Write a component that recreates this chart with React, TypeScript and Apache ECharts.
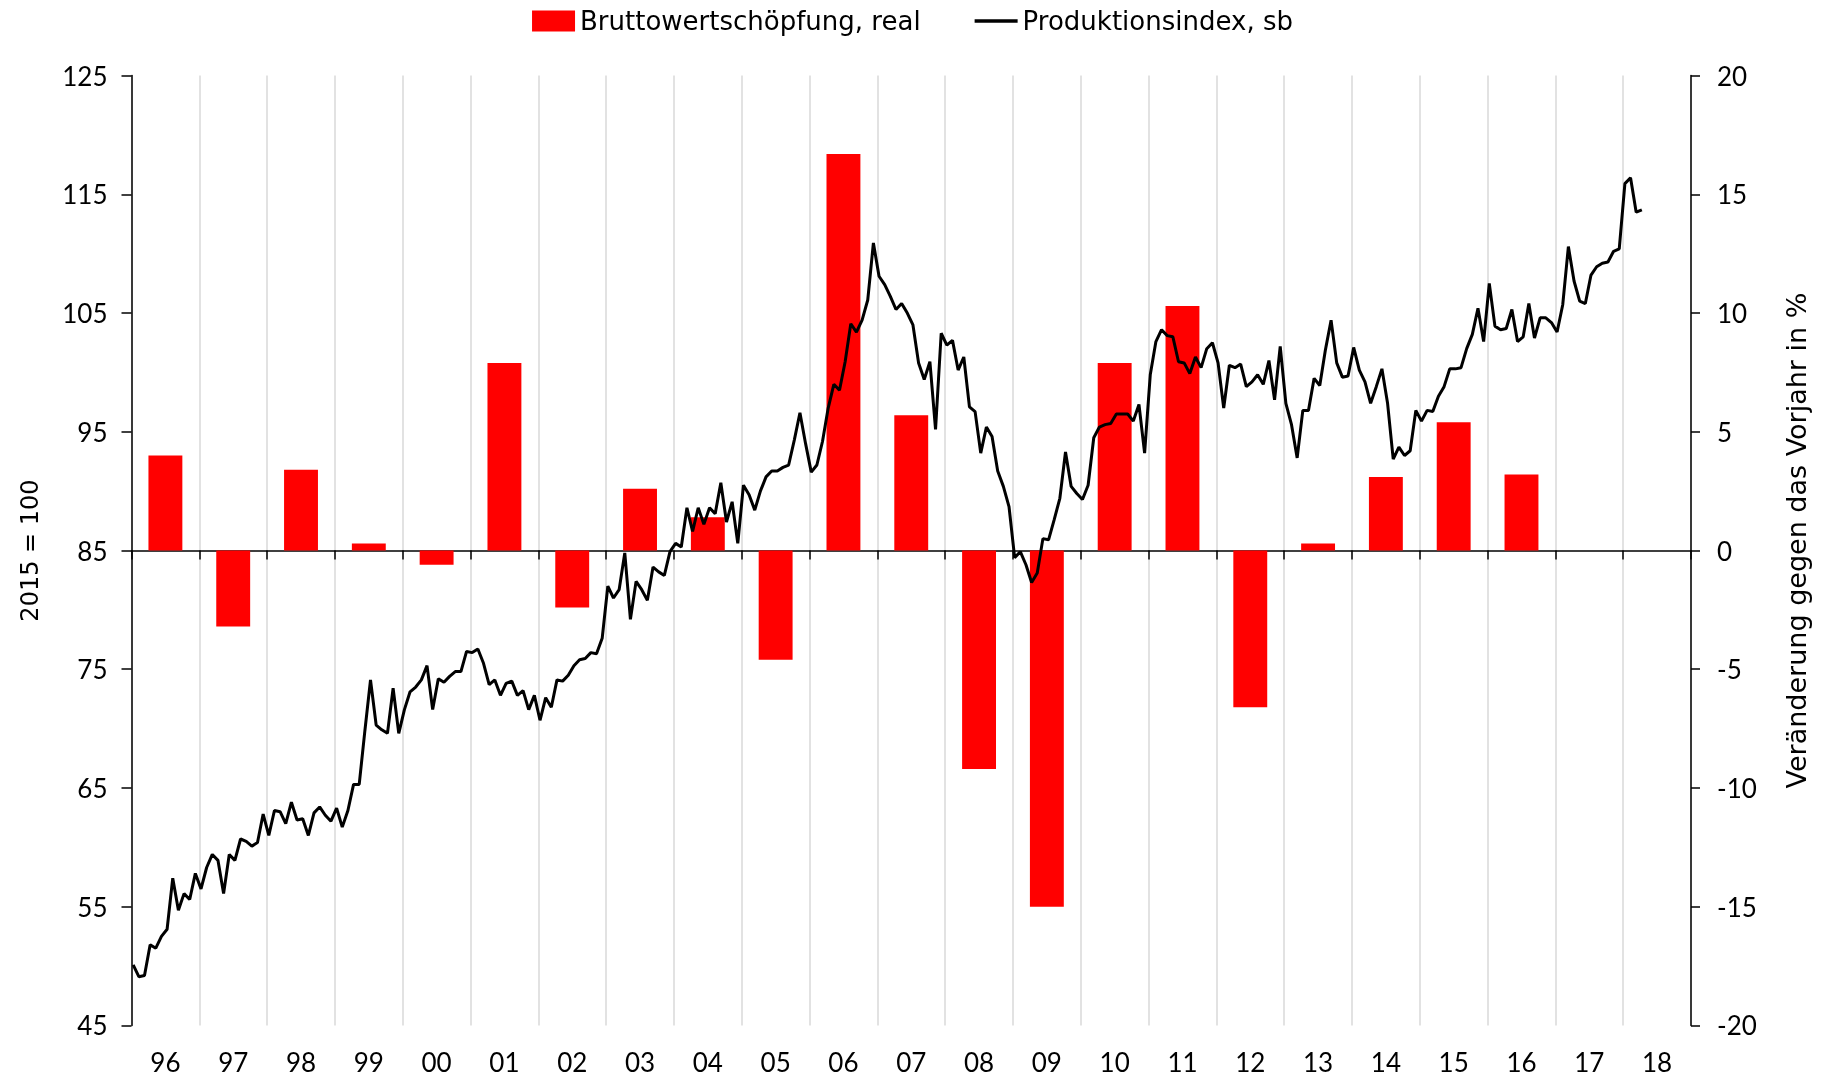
import React, { useEffect, useRef } from 'react';
import * as echarts from 'echarts';

// Year categories (x axis)
const years = ['96', '97', '98', '99', '00', '01', '02', '03', '04', '05', '06', '07', '08', '09', '10', '11', '12', '13', '14', '15', '16', '17', '18'];

// Bruttowertschöpfung, real – Veränderung gegen das Vorjahr in % (right axis)
const bruttowertschoepfung = [4.0, -3.2, 3.4, 0.3, -0.6, 7.9, -2.4, 2.6, 1.4, -4.6, 16.7, 5.7, -9.2, -15.0, 7.9, 10.3, -6.6, 0.3, 3.1, 5.4, 3.2, null, null];

// Produktionsindex, sb (2015 = 100), monthly values
const prod1996to2001 = [
  50.1, 49.1, 49.2, 51.8, 51.5, 52.5, 53.1, 57.4, 54.7, 56.1, 55.6, 57.8,
  56.5, 58.3, 59.4, 58.9, 56.1, 59.4, 58.9, 60.7, 60.5, 60.1, 60.4, 62.8,
  61.0, 63.1, 63.0, 62.0, 63.8, 62.3, 62.4, 61.0, 62.9, 63.4, 62.7, 62.2,
  63.3, 61.7, 63.1, 65.3, 65.3, 69.8, 74.1, 70.3, 69.9, 69.6, 73.4, 69.6,
  71.6, 73.1, 73.5, 74.1, 75.3, 71.6, 74.2, 73.9, 74.4, 74.8, 74.8, 76.5,
  76.4, 76.7, 75.5, 73.7, 74.1, 72.8, 73.8, 74.0, 72.8, 73.2, 71.6, 72.8,
];
const prod2002to2007 = [
  70.7, 72.6, 71.8, 74.1, 74.0, 74.5, 75.3, 75.8, 75.9, 76.4, 76.3, 77.6,
  82.0, 81.0, 81.7, 84.8, 79.2, 82.4, 81.7, 80.8, 83.6, 83.2, 82.9, 84.9,
  85.6, 85.3, 88.6, 86.6, 88.6, 87.2, 88.6, 88.1, 90.7, 87.4, 89.1, 85.6,
  90.5, 89.7, 88.4, 90.0, 91.2, 91.7, 91.7, 92.0, 92.2, 94.3, 96.6, 94.0,
  91.6, 92.2, 94.2, 97.0, 99.0, 98.5, 100.9, 104.1, 103.4, 104.4, 106.1, 110.9,
  108.1, 107.4, 106.4, 105.3, 105.8, 105.0, 104.0, 100.8, 99.4, 100.9, 95.2, 103.3,
];
const prod2008to2013 = [
  102.3, 102.7, 100.2, 101.3, 97.1, 96.7, 93.2, 95.4, 94.6, 91.7, 90.4, 88.7,
  84.4, 84.9, 83.8, 82.3, 83.1, 86.0, 85.9, 87.6, 89.4, 93.3, 90.4, 89.8,
  89.3, 90.5, 94.5, 95.4, 95.6, 95.7, 96.5, 96.5, 96.5, 95.9, 97.3, 93.2,
  99.8, 102.6, 103.6, 103.1, 103.0, 100.9, 100.8, 99.9, 101.3, 100.4, 102.0, 102.5,
  100.8, 97.0, 100.6, 100.4, 100.7, 98.8, 99.2, 99.8, 99.0, 101.0, 97.7, 102.2,
  97.4, 95.6, 92.8, 96.8, 96.8, 99.5, 98.9, 101.9, 104.4, 100.8, 99.6, 99.7,
];
const prod2014to2018 = [
  102.1, 100.2, 99.2, 97.4, 98.8, 100.3, 97.4, 92.7, 93.7, 93.0, 93.4, 96.8,
  95.9, 96.8, 96.7, 98.0, 98.8, 100.3, 100.3, 100.4, 102.0, 103.2, 105.4, 102.6,
  107.5, 103.9, 103.6, 103.7, 105.3, 102.6, 103.0, 105.8, 102.9, 104.6, 104.6, 104.2,
  103.4, 105.7, 110.6, 107.7, 106.0, 105.8, 108.2, 108.9, 109.2, 109.3, 110.2, 110.4,
  115.9, 116.4, 113.5, 113.7,
];
const productionIndex = [...prod1996to2001, ...prod2002to2007, ...prod2008to2013, ...prod2014to2018];

const MONTHS = 12;
const FONT = 'Lato, "Noto Sans", sans-serif';
const WIDE_FONT = '"DejaVu Sans", Lato, sans-serif';

export default function App() {
  const ref = useRef<HTMLDivElement>(null);

  useEffect(() => {
    if (!ref.current) return;
    const chart = echarts.init(ref.current, undefined, { renderer: 'svg' });
    const axisColor = '#000';
    chart.setOption({
      animation: false,
      textStyle: { fontFamily: FONT },
      legend: {
        top: 3,
        left: 'center',
        itemWidth: 43,
        itemHeight: 21,
        itemGap: 54,
        textStyle: { fontSize: 26, color: '#000', fontFamily: WIDE_FONT },
        data: [
          { name: 'Bruttowertschöpfung, real', icon: 'rect' },
          { name: 'Produktionsindex, sb', icon: 'path://M0,0H45V3.6H0Z' },
        ],
      },
      grid: { left: 131.5, right: 134, top: 75.6, bottom: 51.6, containLabel: false },
      xAxis: [
        {
          type: 'category',
          data: years,
          position: 'bottom',
          axisLine: { show: false, onZero: false },
          axisTick: { show: false },
          axisLabel: { color: '#000', fontSize: 26, margin: 24, fontFamily: FONT },
          splitLine: { show: true, lineStyle: { color: '#d9d9d9', width: 1.5 } },
        },
        {
          type: 'category',
          data: years,
          position: 'bottom',
          axisLine: { show: true, onZero: true, onZeroAxisIndex: 1, lineStyle: { color: axisColor, width: 1.5 } },
          axisTick: { show: true, length: 9, lineStyle: { color: axisColor, width: 1.5 } },
          axisLabel: { show: false },
          splitLine: { show: false },
        },
        {
          type: 'value',
          min: 0,
          max: years.length * MONTHS,
          show: false,
          splitLine: { show: false },
        },
      ],
      yAxis: [
        {
          type: 'value',
          min: 45,
          max: 125,
          interval: 10,
          position: 'left',
          name: '2015 = 100',
          nameLocation: 'middle',
          nameRotate: 90,
          nameGap: 90,
          nameTextStyle: { fontSize: 24, color: '#000', fontFamily: WIDE_FONT },
          axisLine: { show: true, onZero: false, lineStyle: { color: axisColor, width: 1.5 } },
          axisTick: { show: true, length: 10, lineStyle: { color: axisColor, width: 1.5 } },
          axisLabel: { color: '#000', fontSize: 26, margin: 24, fontFamily: FONT },
          splitLine: { show: false },
        },
        {
          type: 'value',
          min: -20,
          max: 20,
          interval: 5,
          position: 'right',
          name: 'Veränderung gegen das Vorjahr in %',
          nameLocation: 'middle',
          nameRotate: 90,
          nameGap: 92,
          nameTextStyle: { fontSize: 27, color: '#000', fontFamily: WIDE_FONT, padding: [0, 0, 0, 20] },
          axisLine: { show: true, onZero: false, lineStyle: { color: axisColor, width: 1.5 } },
          axisTick: { show: true, length: 9, lineStyle: { color: axisColor, width: 1.5 } },
          axisLabel: { color: '#000', fontSize: 26, margin: 26, fontFamily: FONT },
          splitLine: { show: false },
        },
      ],
      series: [
        {
          name: 'Bruttowertschöpfung, real',
          type: 'bar',
          xAxisIndex: 0,
          yAxisIndex: 1,
          data: bruttowertschoepfung,
          barWidth: '50%',
          itemStyle: { color: '#ff0000' },
          z: 2,
        },
        {
          name: 'Produktionsindex, sb',
          type: 'line',
          xAxisIndex: 2,
          yAxisIndex: 0,
          data: productionIndex.map((v, i) => [i + 0.3, v]),
          symbol: 'none',
          showSymbol: false,
          lineStyle: { color: '#000', width: 3 },
          itemStyle: { color: '#000' },
          z: 4,
        },
      ],
    });
    return () => chart.dispose();
  }, []);

  return <div ref={ref} style={{ position: 'fixed', left: 0, top: 0, width: 1825, height: 1077 }} />;
}
